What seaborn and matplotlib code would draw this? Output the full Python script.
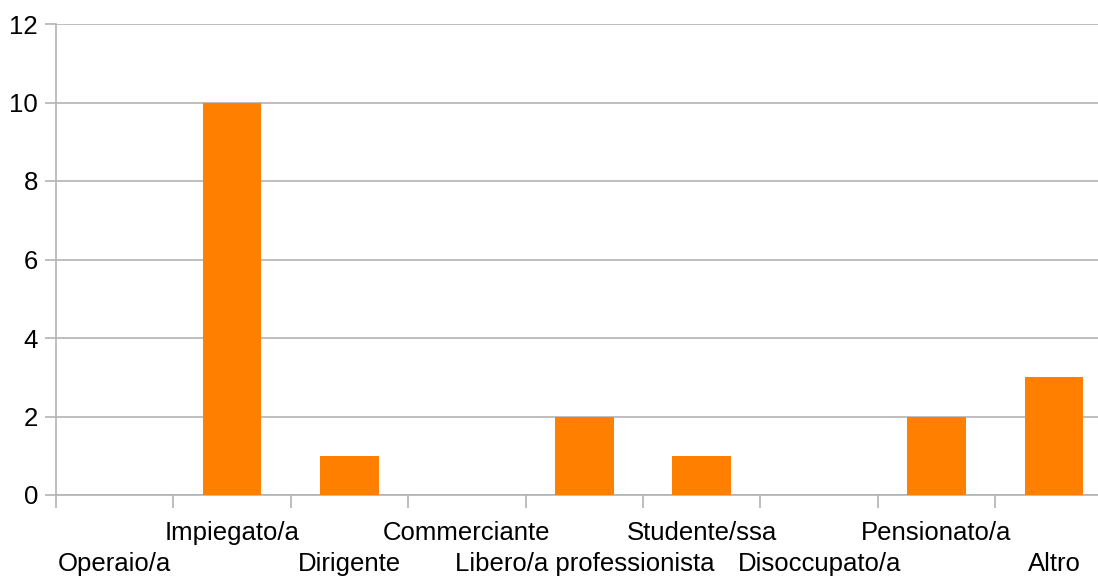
import matplotlib
matplotlib.use("Agg")
import matplotlib.pyplot as plt
import matplotlib.transforms as mtransforms
import seaborn as sns
import numpy as np

categories = ["Operaio/a", "Impiegato/a", "Dirigente", "Commerciante",
              "Libero/a professionista", "Studente/ssa", "Disoccupato/a",
              "Pensionato/a", "Altro"]
counts = [0, 10, 1, 0, 2, 1, 0, 2, 3]
y_ticks = [0, 2, 4, 6, 8, 10, 12]

sns.set_theme(style="white")
plt.rcParams["font.family"] = ["Liberation Sans", "DejaVu Sans"]

W, H = 1098, 579
fig = plt.figure(figsize=(W / 100, H / 100), dpi=100)
# plot area: the last category runs past the right edge of the canvas
left, bottom, top = 56, 495, 24
cat_w = 117.4
ax = fig.add_axes([left / W, (H - bottom) / H, 9 * cat_w / W, (bottom - top) / H])

grid_c = "#b3b3b3"
orange = "#ff8000"
fs = 18.5

sns.barplot(x=categories, y=counts, color=orange, saturation=1, width=0.5,
            linewidth=0, ax=ax, zorder=3)

ax.set_xlim(-0.5, len(categories) - 0.5)
ax.set_ylim(0, 12)
ax.set_yticks(y_ticks)
ax.set_yticklabels([str(t) for t in y_ticks], fontsize=fs, color="black")
ax.yaxis.grid(True, color=grid_c, linewidth=1.2, zorder=0)
ax.set_axisbelow(True)

for side in ["top", "right"]:
    ax.spines[side].set_visible(False)
for side in ["left", "bottom"]:
    ax.spines[side].set_color(grid_c)
    ax.spines[side].set_linewidth(1.2)

ax.tick_params(axis="y", which="major", length=8, width=1.2, color=grid_c,
               pad=5, left=True)

# category labels at centres, tick marks at category boundaries
ax.set_xticks(np.arange(len(categories)))
ax.set_xticklabels(categories, fontsize=fs, color="black")
ax.set_xticks(np.arange(-0.5, len(categories)), minor=True)
ax.tick_params(axis="x", which="major", length=0, pad=19)
ax.tick_params(axis="x", which="minor", length=9, width=1.2, color=grid_c,
               bottom=True)

# stagger labels onto two rows
shift = mtransforms.ScaledTranslation(0, -0.31, fig.dpi_scale_trans)
for i, lab in enumerate(ax.get_xticklabels()):
    if i % 2 == 0:
        lab.set_transform(lab.get_transform() + shift)

ax.set_xlabel("")
ax.set_ylabel("")

fig.savefig("out.png", dpi=100)
